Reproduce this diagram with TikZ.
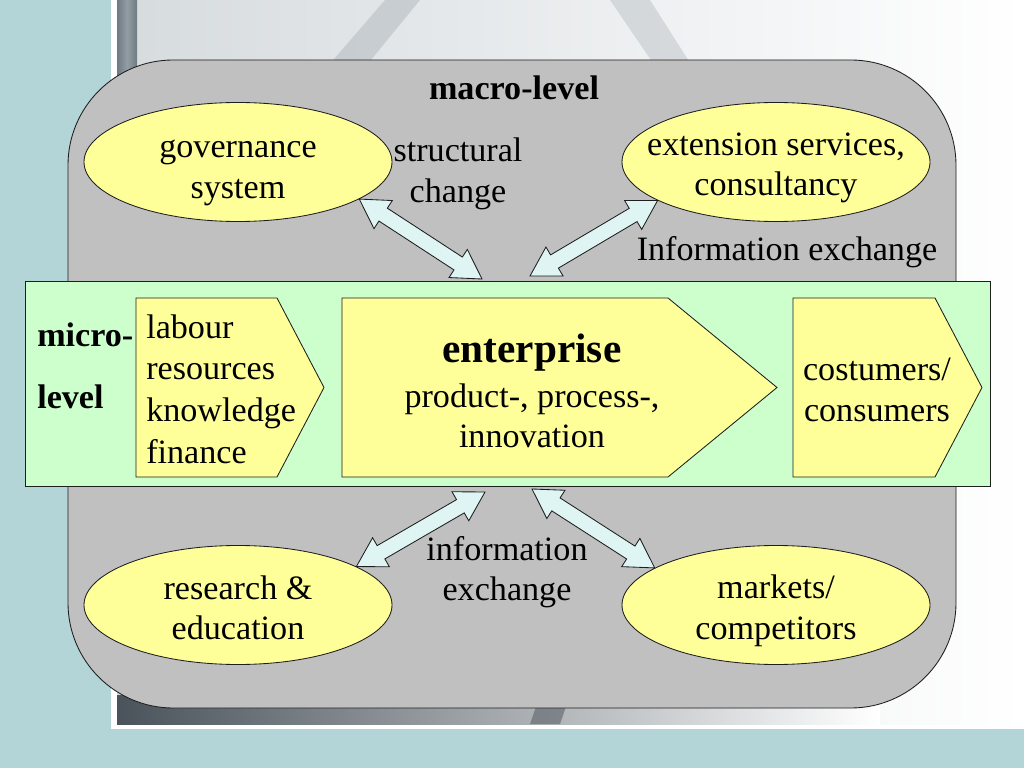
\documentclass[tikz,border=0pt]{standalone}
\usepackage{fontspec}
\setmainfont{Liberation Serif}
\usetikzlibrary{shapes.geometric,calc}
\definecolor{bgblue}{HTML}{B3D5D8}
\definecolor{macrogray}{HTML}{C0C0C0}
\definecolor{microgreen}{HTML}{CCFFCC}
\definecolor{boxyellow}{HTML}{FFFF99}
\definecolor{arrowcyan}{HTML}{DFF5F4}
\definecolor{outline}{HTML}{1E1E1E}
\definecolor{photodark}{HTML}{4A535B}
\definecolor{photomid}{HTML}{AEB6BC}
\definecolor{photolight}{HTML}{D6DBDE}
\definecolor{stripdark}{HTML}{6F7A82}
\definecolor{striplight}{HTML}{939DA4}
\def\ahl{20pt}
\def\ahw{11.8pt}
\def\asw{5.4pt}
\newcommand\dblblockarrow[2]{%
  \coordinate (tmpA) at ($(#1)!\ahl!(#2)$);
  \coordinate (tmpB) at ($(#2)!\ahl!(#1)$);
  \draw[barrow] (#1) -- ($(tmpA)!\ahw!90:(#2)$) -- ($(tmpA)!\asw!90:(#2)$)
    -- ($(tmpB)!\asw!-90:(#1)$) -- ($(tmpB)!\ahw!-90:(#1)$) -- (#2)
    -- ($(tmpB)!\ahw!90:(#1)$) -- ($(tmpB)!\asw!90:(#1)$)
    -- ($(tmpA)!\asw!-90:(#2)$) -- ($(tmpA)!\ahw!-90:(#2)$) -- cycle;
}
\tikzset{
  txt/.style={font=\fontsize{24}{28.5}\selectfont, inner sep=0pt, align=center, text=black},
  boldtxt/.style={txt, font=\fontsize{24}{28.5}\selectfont\bfseries},
  oval/.style={ellipse, draw=outline, line width=0.6pt, fill=boxyellow,
    minimum width=308*0.703125pt, minimum height=119*0.703125pt, inner sep=0pt},
  chev/.style={draw=outline, line width=0.6pt, fill=boxyellow},
  barrow/.style={draw=outline, line width=0.6pt, fill=arrowcyan, line join=miter},
}
\begin{document}
\begin{tikzpicture}[x=0.703125pt,y=-0.703125pt]
\useasboundingbox (0,0) rectangle (1024,768);
% background
\fill[bgblue] (0,0) rectangle (1024,768);
\fill[white] (111,0) rectangle (1024,729);
\shade[left color=photolight, right color=white] (117,0) rectangle (1024,724);
\shade[left color=stripdark, right color=striplight] (117,0) rectangle (127,300);
\shade[left color=striplight, right color=stripdark] (127,0) rectangle (137,300);
\fill[photomid, opacity=0.5] (385,0) -- (420,0) -- (330,110) -- (290,110) -- cycle;
\fill[photomid, opacity=0.4] (610,0) -- (650,0) -- (720,110) -- (685,110) -- cycle;
\shade[left color=photodark, right color=white] (117,695) rectangle (880,724);
\fill[photodark, opacity=0.5] (540,695) -- (570,695) -- (560,724) -- (530,724) -- cycle;
% macro level container
\draw[outline, line width=0.6pt, fill=macrogray, rounded corners=74pt] (68,60) rectangle (956,708);
\node[boldtxt] (macro) at (514,88) {macro-level};
% micro level band
\node[draw=outline, line width=0.6pt, fill=microgreen, minimum width=965*0.703125pt,
  minimum height=205*0.703125pt, inner sep=0pt] (band) at (507.5,383.5) {};
\node[boldtxt, anchor=west] (micro1) at (37,335) {micro-};
\node[boldtxt, anchor=west] (micro2) at (37,397) {level};
% chevrons
\draw[chev] (136,298) -- (277,298) -- (324,387.5) -- (277,477) -- (136,477) -- cycle;
\node[txt, anchor=west, align=left, font=\fontsize{24}{29.3}\selectfont] (labour) at (146,389) {labour\\resources\\knowledge\\finance};
\draw[chev] (342,298) -- (668,298) -- (777,387.5) -- (668,477) -- (342,477) -- cycle;
\node[txt, font=\fontsize{29}{32}\selectfont\bfseries] (ent) at (532,353) {enterprise};
\node[txt] (entsub) at (532,416) {product-, process-,\\innovation};
\draw[chev] (793,298) -- (935,298) -- (982,387.5) -- (935,477) -- (793,477) -- cycle;
\node[txt] (cons) at (877,390) {costumers/\\consumers};
% ovals
\node[oval] (gov) at (238,162) {};
\node[oval] (ext) at (776,162) {};
\node[oval] (res) at (238,605) {};
\node[oval] (mkt) at (776,605) {};
\node[txt] (govtxt) at (238,173) {governance\\system};
\node[txt] (exttxt) at (776,168) {extension services,\\consultancy};
\node[txt] (restxt) at (238,608) {research \&\\education};
\node[txt] (mkttxt) at (776,611) {markets/\\competitors};
% labels
\node[txt] (struct) at (458,174) {structural\\change};
\node[txt] (infoex1) at (787,252) {Information exchange};
\node[txt] (infoex2) at (507,572) {information\\exchange};
% arrows
\coordinate (e1) at (482,279);
\coordinate (e2) at (530,276);
\coordinate (e3) at (485,492);
\coordinate (e4) at (532,489);
\dblblockarrow{gov.-17}{e1}
\dblblockarrow{e2}{ext.-162}
\dblblockarrow{e3}{res.18}
\dblblockarrow{e4}{mkt.163}
\end{tikzpicture}
\end{document}
